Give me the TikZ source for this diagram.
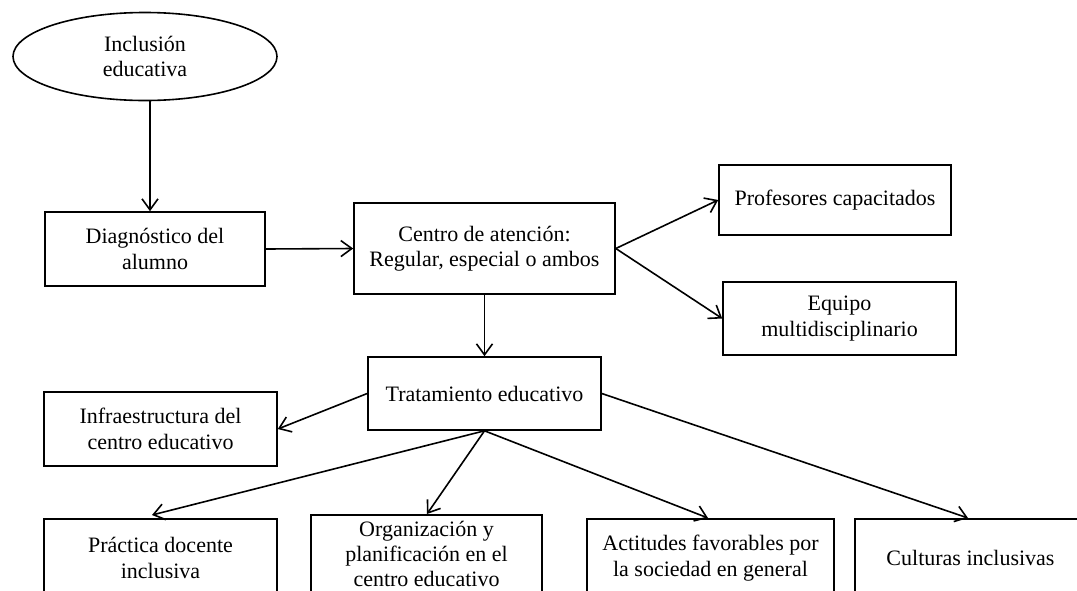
\documentclass[tikz,border=0pt]{standalone}
\usepackage{fontspec}
\setmainfont{Liberation Serif}
\usetikzlibrary{shapes.geometric,arrows.meta}
\begin{document}
\begin{tikzpicture}[x=1pt,y=-1pt,
  every node/.style={font=\fontsize{22}{25.3}\selectfont, align=center, inner sep=0pt},
  box/.style={draw, line width=1.6pt, rectangle},
  arr/.style={-{Straight Barb[length=11pt,width=16pt,line width=1.6pt]}, line width=1.6pt}]
\useasboundingbox (0,0) rectangle (1077,590);
\clip (0,0) rectangle (1077,590);
\node[draw, ellipse, line width=1.6pt, minimum width=264pt, minimum height=88pt] (ell) at (145,56.5) {Inclusión\\educativa};
\node[box, minimum width=220pt, minimum height=74pt] (diag) at (155,249) {Diagnóstico del\\alumno};
\node[box, minimum width=261pt, minimum height=91pt] (centro) at (484.5,248.5) {Centro de atención:\\Regular, especial o ambos};
\node[box, minimum width=232pt, minimum height=70pt] (prof) at (835,200) {Profesores capacitados};
\node[box, minimum width=233pt, minimum height=73pt] (equipo) at (839.5,318.5) {Equipo\\multidisciplinario};
\node[box, minimum width=233pt, minimum height=73pt] (trat) at (484.5,393.5) {Tratamiento educativo};
\node[box, minimum width=233pt, minimum height=74pt] (infra) at (160.5,429) {Infraestructura del\\centro educativo};
\node[box, minimum width=233pt, minimum height=78pt] (prac) at (160.5,558) {Práctica docente\\inclusiva};
\node[box, minimum width=231pt, minimum height=78pt] (org) at (426.5,554) {Organización y\\planificación en el\\centro educativo};
\node[box, minimum width=247pt, minimum height=78pt] (act) at (710.5,558) {Actitudes favorables por\\la sociedad en general};
\node[box, minimum width=231pt, minimum height=78pt] (cult) at (970.5,558) {Culturas inclusivas};
\coordinate (e1) at ([xshift=5pt]ell.south);
\coordinate (tprac) at (152,515);
\coordinate (torg) at (427,514);
\coordinate (tact) at (708,518);
\coordinate (tcult) at (968,518);
\draw[arr] (e1) -- (e1 |- diag.north);
\draw[arr] (diag.east) -- (centro.west);
\draw[arr] (centro.east) -- (prof.west);
\draw[arr] (centro.east) -- (equipo.west);
\draw[arr] (centro.south) -- (trat.north);
\draw[arr] (trat.west) -- (infra.east);
\draw[arr] (trat.south) -- (tprac);
\draw[arr] (trat.south) -- (torg);
\draw[arr] (trat.south) -- (tact);
\draw[arr] (trat.east) -- (tcult);
\end{tikzpicture}
\end{document}
